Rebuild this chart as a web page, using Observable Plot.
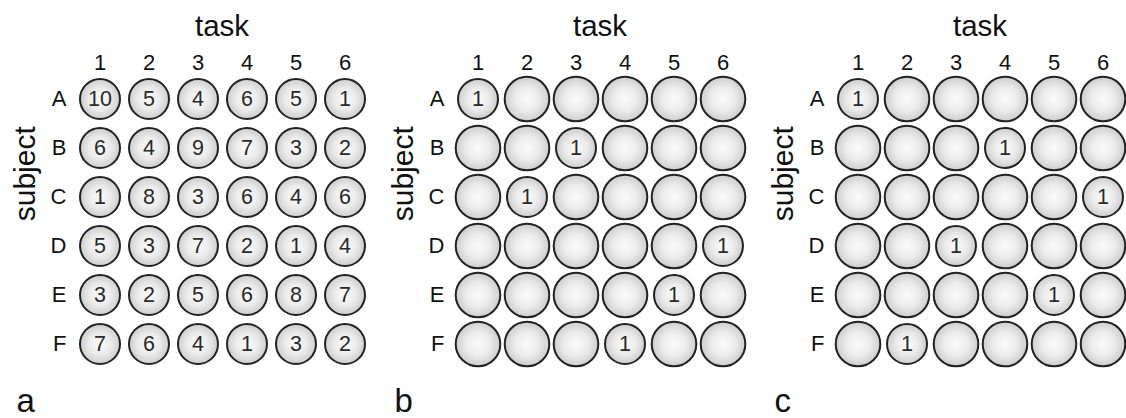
<!DOCTYPE html>
<html>
<head>
<meta charset="utf-8">
<script src="https://cdn.jsdelivr.net/npm/d3@7"></script>
<script src="https://cdn.jsdelivr.net/npm/@observablehq/plot@0.6"></script>
<style>
  html, body { margin: 0; padding: 0; background: #fff; }
  #wrap { position: relative; width: 1126px; height: 418px; overflow: hidden; background: #fff; }
  #wrap svg { position: absolute; top: 0; }
</style>
</head>
<body>
<div id="wrap"></div>
<script>
// ---- data ----
const subjects = ["A", "B", "C", "D", "E", "F"];
const tasks = [1, 2, 3, 4, 5, 6];
const panelLetters = ["a", "b", "c"];

// panel a: full counts (rows = subjects A..F, columns = tasks 1..6)
const panelA = [
  [10, 5, 4, 6, 5, 1],
  [6, 4, 9, 7, 3, 2],
  [1, 8, 3, 6, 4, 6],
  [5, 3, 7, 2, 1, 4],
  [3, 2, 5, 6, 8, 7],
  [7, 6, 4, 1, 3, 2]
];
// panel b: one task assigned per subject (value 1), others empty
const panelB = [
  [1, null, null, null, null, null],
  [null, null, 1, null, null, null],
  [null, 1, null, null, null, null],
  [null, null, null, null, null, 1],
  [null, null, null, null, 1, null],
  [null, null, null, 1, null, null]
];
// panel c
const panelC = [
  [1, null, null, null, null, null],
  [null, null, null, 1, null, null],
  [null, null, null, null, null, 1],
  [null, null, 1, null, null, null],
  [null, null, null, null, 1, null],
  [null, 1, null, null, null, null]
];

const panels = [panelA, panelB, panelC];
const lefts = [0, 378, 758];

const wrap = document.getElementById("wrap");

panels.forEach((matrix, p) => {
  const cells = [];
  matrix.forEach((row, i) => row.forEach((v, j) => cells.push({subject: subjects[i], task: tasks[j], value: v})));
  const gid = "ball-" + panelLetters[p];

  const defs = () => {
    const g = d3.create("svg:defs");
    const rg = g.append("radialGradient").attr("id", gid).attr("cx", "50%").attr("cy", "50%").attr("r", "50%");
    rg.append("stop").attr("offset", "0%").attr("stop-color", "#fbfbfb");
    rg.append("stop").attr("offset", "55%").attr("stop-color", "#ebebeb");
    rg.append("stop").attr("offset", "100%").attr("stop-color", "#cdcdcd");
    return g.node();
  };

  const chart = Plot.plot({
    width: 380,
    height: 418,
    marginLeft: 72,
    marginRight: 9,
    marginTop: 71.4,
    marginBottom: 47.9,
    style: {fontFamily: "Arial, 'Liberation Sans', sans-serif", fontSize: "22px", background: "white", overflow: "visible"},
    x: {type: "band", domain: tasks, padding: 0, axis: null},
    y: {type: "band", domain: subjects, padding: 0, axis: null},
    marks: [
      defs,
      // column tick labels (tasks) along the top
      Plot.text(tasks, {x: d => d, frameAnchor: "top", dy: -2.4, lineAnchor: "bottom", fontSize: 22, fill: "#111"}),
      // row tick labels (subjects) on the left
      Plot.text(subjects, {y: d => d, frameAnchor: "left", dx: -6, textAnchor: "end", fontSize: 22, fill: "#111"}),
      Plot.text(["task"], {frameAnchor: "top", dy: -36.4, lineAnchor: "bottom", fontSize: 29.5, fill: "#111"}),
      Plot.text(["subject"], {frameAnchor: "left", dx: -47.5, rotate: -90, fontSize: 30, fill: "#111"}),
      Plot.text([panelLetters[p]], {frameAnchor: "bottom-left", dx: -56, dy: 41, textAnchor: "start", lineAnchor: "bottom", fontSize: 33, fill: "#111"}),
      Plot.dot(cells, {filter: d => d.value == null, x: "task", y: "subject", r: 22.3, fill: `url(#${gid})`, stroke: "#222", strokeWidth: 2}),
      Plot.dot(cells, {filter: d => d.value != null, x: "task", y: "subject", r: 20, fill: `url(#${gid})`, stroke: "#222", strokeWidth: 2}),
      Plot.text(cells, {filter: d => d.value != null, x: "task", y: "subject", text: "value", fontSize: 21.5, fill: "#2a2a2a"})
    ]
  });
  chart.style.left = lefts[p] + "px";
  wrap.appendChild(chart);
});
</script>
</body>
</html>
